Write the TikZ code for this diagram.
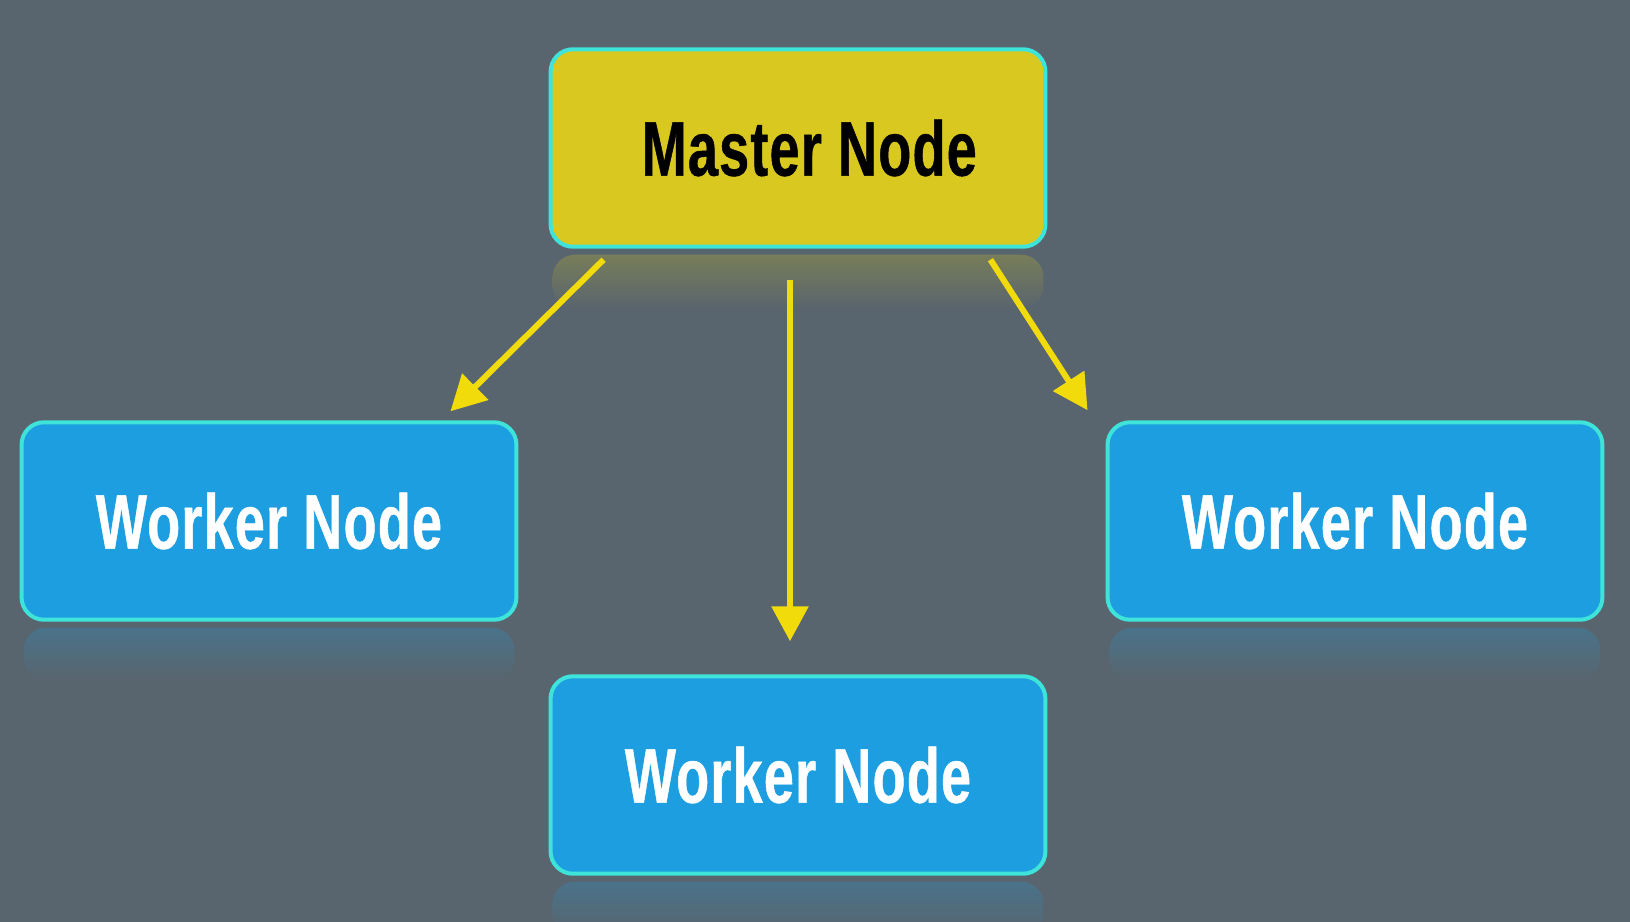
\documentclass[tikz,border=0pt]{standalone}
\usepackage{fontspec}
\setmainfont{Liberation Sans}[FakeStretch=0.7,LetterSpace=1.5,FakeBold=0.6]
\usepackage{tikz}
\usetikzlibrary{arrows.meta,positioning,calc}
\definecolor{bg}{HTML}{59656E}
\definecolor{rim}{HTML}{3EE3DA}
\definecolor{mfill}{HTML}{D9C81F}
\definecolor{wfill}{HTML}{1D9EE0}
\definecolor{arrc}{HTML}{F2DB0A}
\tikzset{
  >={Triangle[length=7mm,width=7.2mm]},
  box/.style={draw=rim,line width=0.08cm,rounded corners=0.45cm,minimum width=9.9cm,minimum height=3.95cm,font=\fontsize{44}{44}\selectfont\bfseries},
  mbox/.style={box,fill=mfill,text=black},
  wbox/.style={box,fill=wfill,text=white},
  arr/.style={->,draw=arrc,fill=arrc,line width=0.12cm},
  refl/.style={rounded corners=0.45cm,top color=#1,bottom color=bg,opacity=0.55},
}
\begin{document}
\begin{tikzpicture}[x=0.02cm,y=-0.02cm]
\fill[bg] (0,0) rectangle (1630,922);
\useasboundingbox (0,0) rectangle (1630,922);
% boxes
\node[mbox] (m) at (798,148) {\hspace*{0.45cm}Master Node};
\node[wbox] (w1) at (269,521) {Worker Node};
\node[wbox] (w3) at (1355,521) {Worker Node};
\node[wbox] (w2) at (798,775) {Worker Node};
% faint reflections
\foreach \n/\c in {m/mfill,w1/wfill,w3/wfill,w2/wfill}
  \shade[refl=\c!45!bg] ($(\n.south west)+(4,6)$) rectangle ($(\n.south east)+(-4,60)$);
% arrows
\draw[arr] ($(m.south west)+(55,11)$) -- ($(w1.north east)+(-68,-9)$);
\draw[arr] ($(m.south)+(-8,31)$) -- ($(w2.north)+(-8,-33)$);
\draw[arr] ($(m.south east)+(-57,11)$) -- ($(w3.north west)+(-18,-10)$);
\end{tikzpicture}
\end{document}
